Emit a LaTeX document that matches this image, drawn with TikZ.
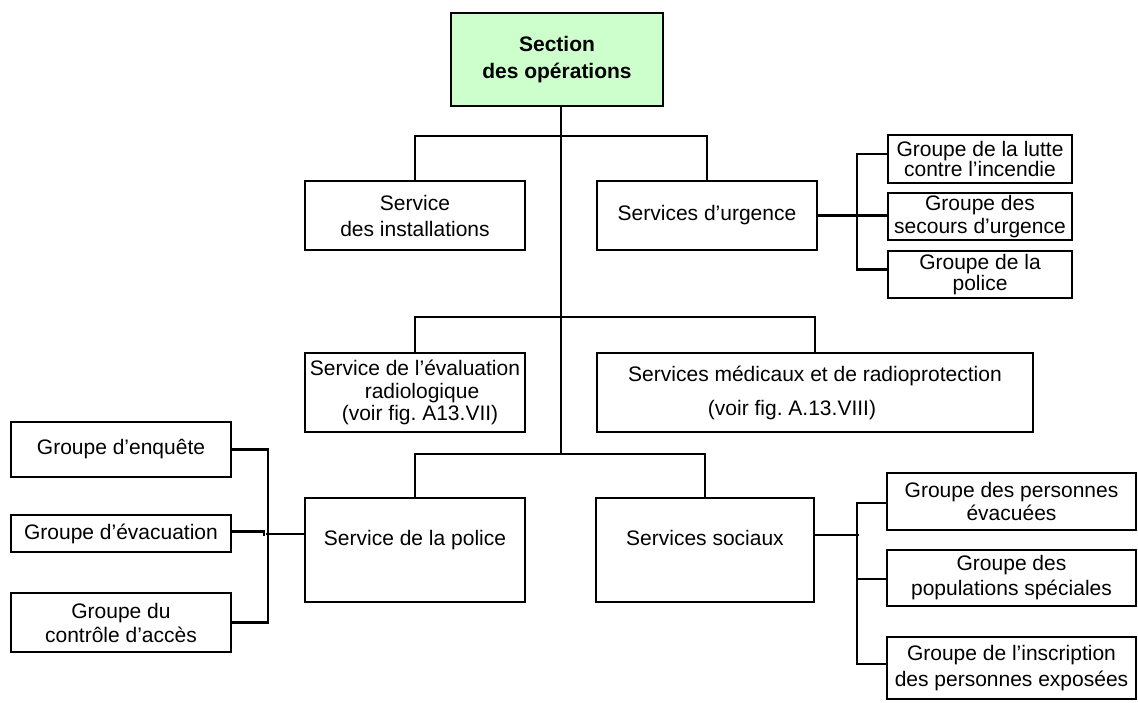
\documentclass[tikz,border=0pt]{standalone}
\usepackage{fontspec}
\setmainfont{Liberation Sans}
\frenchspacing
\begin{document}
\begin{tikzpicture}[x=1pt,y=-1pt,
  box/.style={draw, line width=1.9pt, inner sep=0pt, align=center,
              font=\fontsize{21}{24}\selectfont},
  lh/.style={font=\fontsize{21}{#1}\selectfont},
  conn/.style={line width=2.3pt},
  trunk/.style={line width=2.9pt}]
\useasboundingbox (0,0) rectangle (1138,702);

% head of the section
\node[box, fill={rgb,255:red,204;green,255;blue,204}, lh=27,
      minimum width=212, minimum height=93] (top) at (557,59.5)
      {\bfseries Section\\\bfseries des opérations};

% first level services
\node[box, lh=26, minimum width=220, minimum height=69] (inst) at (415,215.5)
      {Service\\des installations};
\node[box, minimum width=220, minimum height=69] (urg) at (707,215.5)
      {Services d’urgence};
\node[box, minimum width=220, minimum height=79, lh=22.5] (eval) at (415,392.5)
      {Service de l’évaluation\\\hspace*{14pt}radiologique\\\hspace*{10pt}(voir fig. A13.VII)};
\node[box, minimum width=436, minimum height=79, lh=34] (med) at (815,392.5)
      {Services médicaux et de radioprotection\\\hspace*{-46pt}(voir fig. A.13.VIII)};
\node[box, minimum width=220, minimum height=104] (police) at (415,550)
      {Service de la police\\[0pt]};
\node[box, minimum width=218, minimum height=104] (soc) at (705,550)
      {Services sociaux\\[0pt]};

% groups under the emergency services
\node[box, lh=20, minimum width=184, minimum height=48] (g1) at (980,159)
      {Groupe de la lutte\\contre l’incendie};
\node[box, lh=23, minimum width=184, minimum height=47] (g2) at (980,216.5)
      {Groupe des\\secours d’urgence};
\node[box, lh=21, minimum width=184, minimum height=47] (g3) at (980,274.5)
      {Groupe de la\\police};

% groups under the police service
\node[box, minimum width=220, minimum height=55] (enq) at (121,449.5)
      {Groupe d’enquête};
\node[box, minimum width=220, minimum height=37] (evac) at (121,533.5)
      {Groupe d’évacuation};
\node[box, lh=24, minimum width=220, minimum height=59] (ctrl) at (121,622.5)
      {Groupe du\\contrôle d’accès};

% groups under the social services
\node[box, lh=23, minimum width=249, minimum height=57] (s1) at (1011.5,501.5)
      {Groupe des personnes\\évacuées};
\node[box, lh=25, minimum width=249, minimum height=56] (s2) at (1011.5,578)
      {Groupe des\\populations spéciales};
\node[box, lh=26, minimum width=249, minimum height=62] (s3) at (1011.5,668)
      {Groupe de l’inscription\\des personnes exposées};

% junctions on the main trunk
\coordinate (j1) at (561,136);
\coordinate (j2) at (561,317);
\coordinate (j3) at (561,454);

\draw[trunk] (top.south -| j1) -- (j3);
\draw[conn] (inst.north) |- (j1) -| (urg.north);
\draw[conn] (eval.north) |- (j2) -| (med.north);
\draw[conn] (police.north) |- (j3) -| (soc.north);

% emergency groups
\draw[conn] (urg.east) -- (urg.east -| g2.west);
\draw[conn] ([yshift=5pt]g1.west) -- ++(-30,0) |- ([yshift=5pt]g3.west);

% police groups
\draw[conn] ([yshift=16pt]police.west) -- ++(-38,0);
\draw[conn] (enq.east) -- ++(36,0) |- (ctrl.east);
\draw[conn] ([yshift=2pt]evac.east) -- ++(32,0) -- ++(0,4);

% social groups
\draw[conn] ([yshift=15pt]soc.east) -- ++(44,0);
\draw[conn] ([yshift=-1.5pt]s1.west) -- ++(-29,0) |- ([yshift=4pt]s3.west);
\draw[conn] ([yshift=-1pt]s2.west) -- ++(-29,0);
\end{tikzpicture}
\end{document}
